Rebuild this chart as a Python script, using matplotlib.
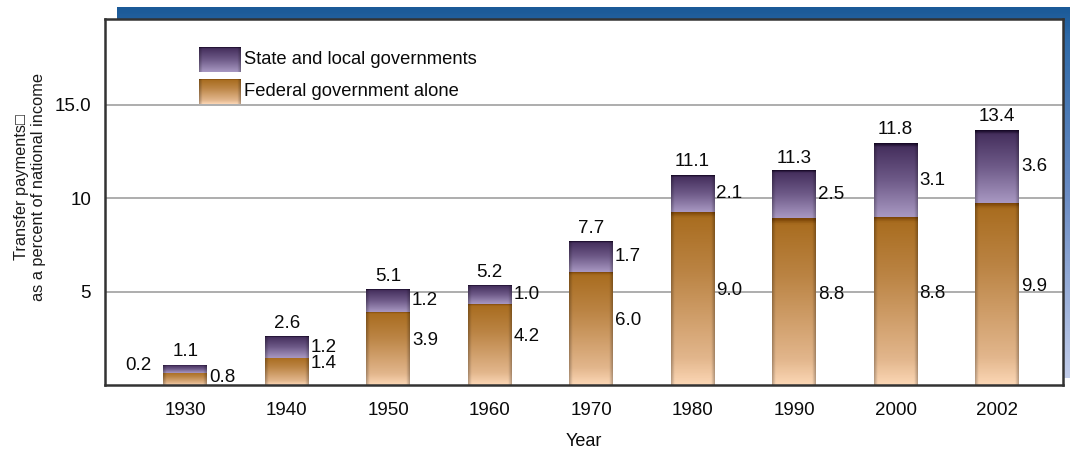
import numpy as np
import matplotlib
matplotlib.use("Agg")
import matplotlib.pyplot as plt
from matplotlib.colors import LinearSegmentedColormap

plt.rcParams['font.family'] = ['Liberation Sans', 'DejaVu Sans']

# datos
years = ["1930", "1940", "1950", "1960", "1970", "1980", "1990", "2000", "2002"]
federal = [0.65, 1.45, 3.92, 4.35, 6.07, 9.28, 8.92, 9.0, 9.75]
state = [0.42, 1.15, 1.18, 0.97, 1.62, 1.97, 2.53, 3.96, 3.91]
total_labels = ["1.1", "2.6", "5.1", "5.2", "7.7", "11.1", "11.3", "11.8", "13.4"]
state_labels = ["0.2", "1.2", "1.2", "1.0", "1.7", "2.1", "2.5", "3.1", "3.6"]
federal_labels = ["0.8", "1.4", "3.9", "4.2", "6.0", "9.0", "8.8", "8.8", "9.9"]
yticks = [5, 10, 15]
ytick_labels = ["5", "10", "15.0"]

fed_cmap = LinearSegmentedColormap.from_list(
    "fed", [(0, "#7a4406"), (0.03, "#a96d20"), (0.35, "#bb8444"),
            (0.85, "#e2b68c"), (1, "#fbd6b4")])
state_cmap = LinearSegmentedColormap.from_list(
    "state", [(0, "#160826"), (0.05, "#46305e"), (0.5, "#6e5a88"),
              (1, "#a898c2")])
TXT = "#0a0a0a"


def gradient_img(cmap, ny=100, nx=40):
    col = cmap(np.linspace(0, 1, ny))[:, None, :3]
    img = np.repeat(col, nx, axis=1)
    # bordes laterales un poco mas oscuros
    xx = np.linspace(0, 1, nx)
    shade = 1 - 0.25 * np.clip(1 - np.minimum(xx, 1 - xx) / 0.08, 0, 1)
    return img * shade[None, :, None]


fig = plt.figure(figsize=(10.7, 4.51), dpi=100)

# marco azul de fondo
bg = fig.add_axes([117 / 1070, 1 - 378 / 451, (1070 - 117) / 1070, (378 - 7) / 451])
blue = LinearSegmentedColormap.from_list(
    "blue", [(0, "#1b5a98"), (0.08, "#2f6aa8"), (0.5, "#6a8cc4"), (1, "#c2cdea")])
bg.imshow(blue(np.linspace(0, 1, 200))[:, None, :3], aspect="auto",
          extent=[0, 1, 0, 1])
bg.axis("off")

ax = fig.add_axes([105 / 1070, 1 - 385 / 451, (1063 - 105) / 1070, (385 - 19) / 451])
ax.set_facecolor("white")
ymax = (385 - 19) / 18.67
ax.set_xlim(-0.79, 8.65)
ax.set_ylim(0, ymax)

for y in yticks:
    ax.axhline(y, color="#a0a0a0", lw=1.2, zorder=1)

x = np.arange(len(years))
w = 0.43
fs = 13.5
fed_img = gradient_img(fed_cmap)
state_img = gradient_img(state_cmap)
for i, xi in enumerate(x):
    f = federal[i]
    top = f + state[i]
    ax.imshow(fed_img, aspect="auto", extent=[xi - w / 2, xi + w / 2, 0, f], zorder=2)
    ax.imshow(state_img, aspect="auto", extent=[xi - w / 2, xi + w / 2, f, top], zorder=2)
    ax.text(xi, top + 0.25, total_labels[i], ha="center", va="bottom", fontsize=fs,
            color=TXT)
    if i == 0:
        ax.text(xi - w / 2 - 0.12, top, state_labels[i], ha="right", va="center",
                fontsize=fs, color=TXT)
        ax.text(xi + w / 2 + 0.02, 0.4, federal_labels[i], ha="left", va="center",
                fontsize=fs, color=TXT)
    else:
        ax.text(xi + w / 2 + 0.02, f + state[i] / 2, state_labels[i], ha="left",
                va="center", fontsize=fs, color=TXT)
        ax.text(xi + w / 2 + 0.02, f / 2 + 0.4, federal_labels[i], ha="left",
                va="center", fontsize=fs, color=TXT)

ax.set_xticks(x)
ax.set_xticklabels(years, fontsize=fs, color=TXT)
ax.set_yticks(yticks)
ax.set_yticklabels(ytick_labels, fontsize=fs, color=TXT)
ax.tick_params(length=0, axis="x", pad=12)
ax.tick_params(length=0, axis="y", pad=10)
for s in ax.spines.values():
    s.set_color("#333333")
    s.set_linewidth(1.8)

ax.set_xlabel("Year", fontsize=13, color=TXT, labelpad=10)
fig.text(0.028, 0.585, "Transfer payments\u25a1\nas a percent of national income",
         rotation=90, ha="center", va="center", fontsize=11.8, color="#1a1a1a",
         linespacing=1.12)

# leyenda
for k, (cm, lab) in enumerate([(state_cmap, "State and local governments"),
                               (fed_cmap, "Federal government alone")]):
    y0 = 0.855 - k * 0.087
    ax.imshow(gradient_img(cm), aspect="auto", extent=[0.098, 0.141, y0, y0 + 0.068],
              transform=ax.transAxes, zorder=3)
    ax.text(0.145, y0 + 0.034, lab, transform=ax.transAxes, ha="left", va="center",
            fontsize=13.2, color=TXT)
ax.set_xlim(-0.79, 8.65)
ax.set_ylim(0, ymax)

fig.savefig("out.png", dpi=100)
